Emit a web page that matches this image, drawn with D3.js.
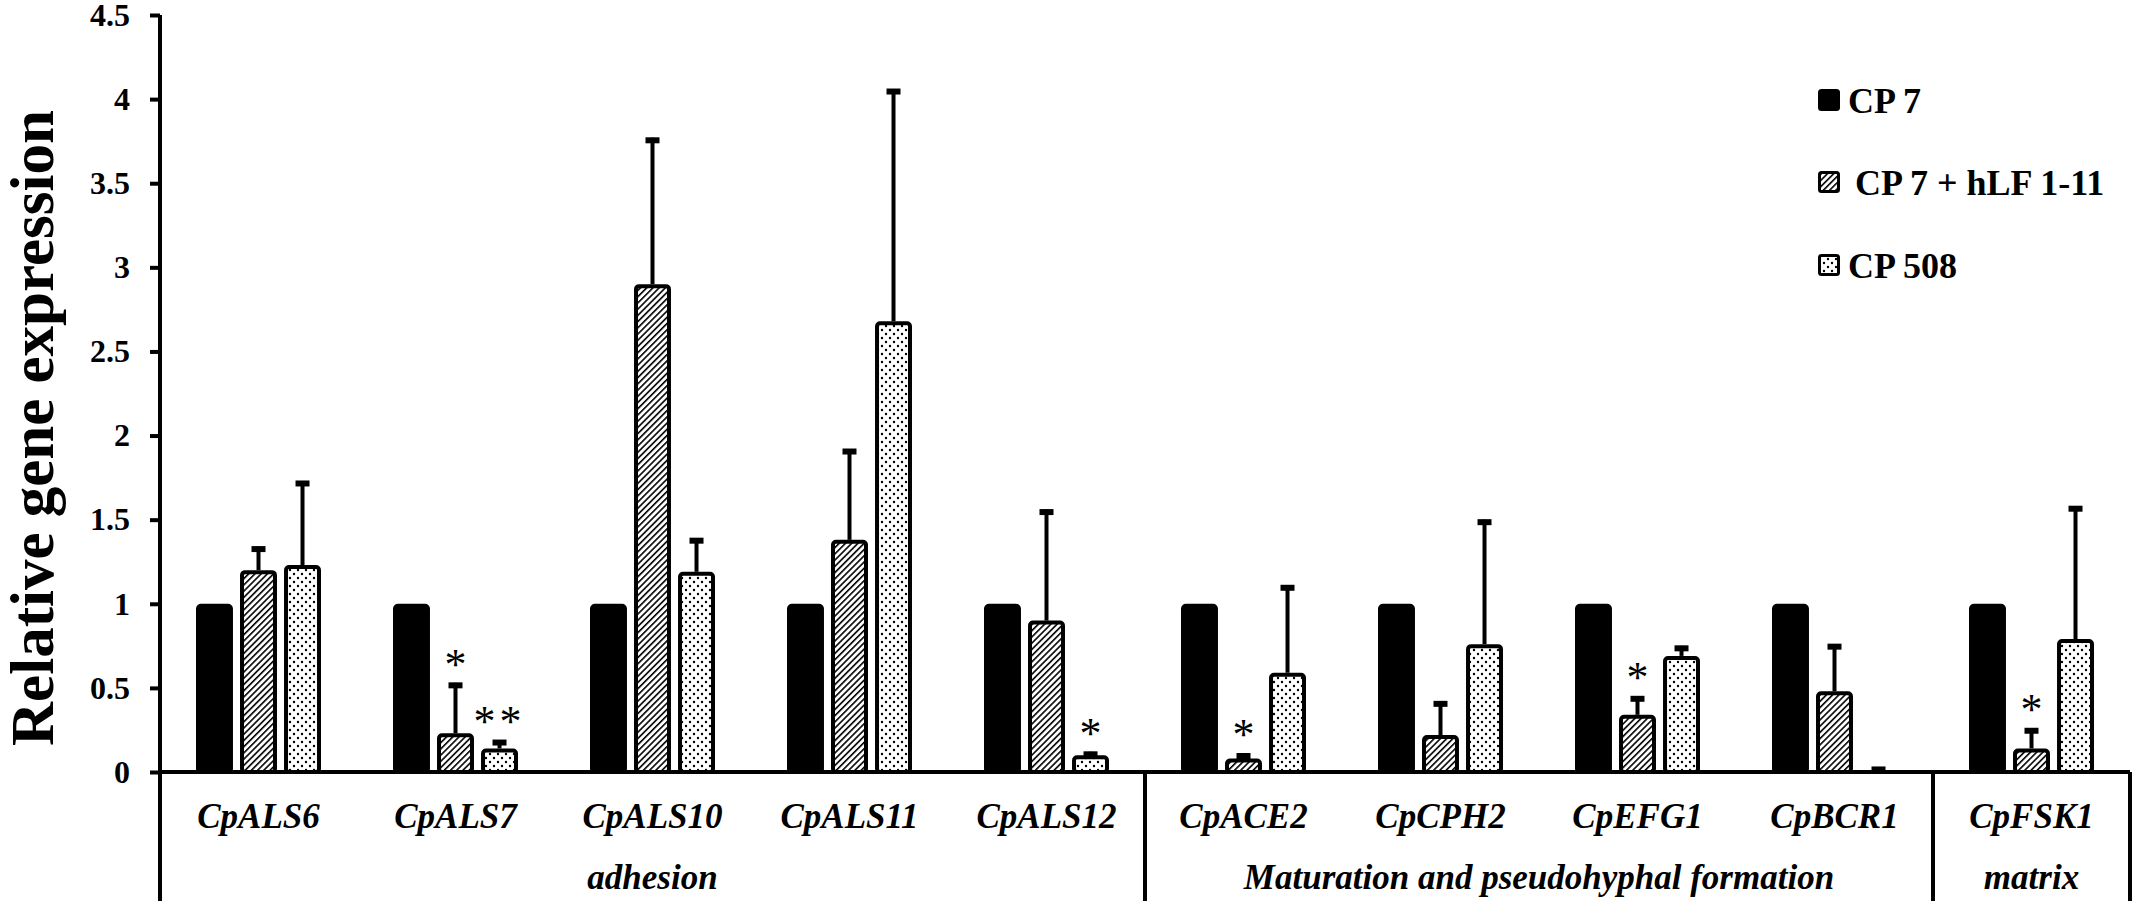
<!DOCTYPE html>
<html>
<head>
<meta charset="utf-8">
<script src="https://cdn.jsdelivr.net/npm/d3@7"></script>
<style>
  body { margin: 0; background: #fff; }
  text { font-family: "Liberation Serif", "Times New Roman", serif; fill: #000; }
</style>
</head>
<body>
<script>
// values
var categories = ["CpALS6", "CpALS7", "CpALS10", "CpALS11", "CpALS12",
                  "CpACE2", "CpCPH2", "CpEFG1", "CpBCR1", "CpFSK1"];
var seriesNames = ["CP 7", "CP 7 + hLF 1-11", "CP 508"];
var cp7 = [1, 1, 1, 1, 1, 1, 1, 1, 1, 1];
var hlf = [1.20, 0.23, 2.90, 1.38, 0.90, 0.08, 0.22, 0.34, 0.48, 0.14];
var hlfSd = [0.14, 0.30, 0.87, 0.54, 0.66, 0.03, 0.20, 0.11, 0.28, 0.12];
var cp508 = [1.23, 0.14, 1.19, 2.68, 0.10, 0.59, 0.76, 0.69, 0.01, 0.79];
var cp508Sd = [0.50, 0.05, 0.20, 1.38, 0.02, 0.52, 0.74, 0.06, 0.02, 0.79];
var yTicks = [0, 0.5, 1, 1.5, 2, 2.5, 3, 3.5, 4, 4.5];
var groups = [
  { name: "adhesion", from: "CpALS6", to: "CpALS12" },
  { name: "Maturation and pseudohyphal formation", from: "CpACE2", to: "CpBCR1" },
  { name: "matrix", from: "CpFSK1", to: "CpFSK1" }
];
var stars = [
  { cat: "CpALS7", s: 1, text: "*" },
  { cat: "CpALS7", s: 2, text: "**" },
  { cat: "CpALS12", s: 2, text: "*" },
  { cat: "CpACE2", s: 1, text: "*" },
  { cat: "CpEFG1", s: 1, text: "*" },
  { cat: "CpFSK1", s: 1, text: "*" }
];

var width = 2133, height = 901;
var plotLeft = 160, plotRight = 2130, plotTop = 15, base = 772;

var svg = d3.select("body").append("svg")
    .attr("width", width)
    .attr("height", height);

// fill patterns
var defs = svg.append("defs");
var hatch = defs.append("pattern")
    .attr("id", "hatch")
    .attr("patternUnits", "userSpaceOnUse")
    .attr("width", 4.4).attr("height", 4.4)
    .attr("patternTransform", "rotate(45)");
hatch.append("rect").attr("width", 4.4).attr("height", 4.4).attr("fill", "#fff");
hatch.append("line")
    .attr("x1", 0).attr("y1", 0).attr("x2", 0).attr("y2", 4.4)
    .attr("stroke", "#000").attr("stroke-width", 3.2);

var dots = defs.append("pattern")
    .attr("id", "dots")
    .attr("patternUnits", "userSpaceOnUse")
    .attr("width", 8).attr("height", 8);
dots.append("rect").attr("width", 8).attr("height", 8).attr("fill", "#fff");
dots.append("circle").attr("cx", 2).attr("cy", 2).attr("r", 1.2).attr("fill", "#000");
dots.append("circle").attr("cx", 6).attr("cy", 6).attr("r", 1.2).attr("fill", "#000");

var fills = ["#000", "url(#hatch)", "url(#dots)"];

var x0 = d3.scaleBand().domain(categories).range([plotLeft, plotRight]).padding(0);
var x1 = d3.scaleBand().domain([0, 1, 2]).range([-62.5, 62.5]).paddingInner(0.16);
var y = d3.scaleLinear().domain([0, 4.5]).range([base, plotTop]);

function barX(cat, s) {
  return x0(cat) + x0.bandwidth() / 2 + x1(s);
}

var rows = [];
categories.forEach(function (c, i) {
  rows.push({ cat: c, s: 0, v: cp7[i], sd: null });
  rows.push({ cat: c, s: 1, v: hlf[i], sd: hlfSd[i] });
  rows.push({ cat: c, s: 2, v: cp508[i], sd: cp508Sd[i] });
});

// error bars (drawn first, bars cover the lower end)
var eb = svg.append("g").selectAll("g")
    .data(rows.filter(function (d) { return d.sd !== null; }))
    .enter().append("g");
eb.append("line")
    .attr("x1", function (d) { return barX(d.cat, d.s) + x1.bandwidth() / 2; })
    .attr("x2", function (d) { return barX(d.cat, d.s) + x1.bandwidth() / 2; })
    .attr("y1", function (d) { return y(d.v); })
    .attr("y2", function (d) { return y(d.v + d.sd); })
    .attr("stroke", "#000").attr("stroke-width", 4);
eb.append("line")
    .attr("x1", function (d) { return barX(d.cat, d.s) + x1.bandwidth() / 2 - 7; })
    .attr("x2", function (d) { return barX(d.cat, d.s) + x1.bandwidth() / 2 + 7; })
    .attr("y1", function (d) { return y(d.v + d.sd) + 2.5; })
    .attr("y2", function (d) { return y(d.v + d.sd) + 2.5; })
    .attr("stroke", "#000").attr("stroke-width", 6);

// bars
svg.append("g").selectAll("rect")
    .data(rows)
    .enter().append("rect")
    .attr("x", function (d) { return barX(d.cat, d.s) + 2; })
    .attr("width", x1.bandwidth() - 4)
    .attr("y", function (d) { return y(d.v) + 2; })
    .attr("height", function (d) { return Math.max(0, base - y(d.v) - 2); })
    .attr("rx", 3)
    .attr("fill", function (d) { return fills[d.s]; })
    .attr("stroke", "#000")
    .attr("stroke-width", 4);

// significance marks
var capOf = function (cat, s) {
  var i = categories.indexOf(cat);
  return s === 1 ? hlf[i] + hlfSd[i] : cp508[i] + cp508Sd[i];
};
svg.append("g").selectAll("text")
    .data(stars)
    .enter().append("text")
    .attr("x", function (d) { return barX(d.cat, d.s) + x1.bandwidth() / 2; })
    .attr("y", function (d) { return y(capOf(d.cat, d.s)) - 4; })
    .attr("text-anchor", "middle")
    .style("font-size", "44px")
    .style("letter-spacing", function (d) { return d.text.length > 1 ? "4px" : "0px"; })
    .text(function (d) { return d.text; });

// y axis
var yAxis = d3.axisLeft(y)
    .tickValues(yTicks)
    .tickSize(10)
    .tickSizeOuter(0)
    .tickPadding(20)
    .tickFormat(function (d) { return String(d); });
var ga = svg.append("g")
    .attr("transform", "translate(" + plotLeft + ",0)")
    .call(yAxis);
ga.select(".domain").remove();
ga.selectAll(".tick line").attr("stroke", "#000").attr("stroke-width", 4);
ga.selectAll(".tick text")
    .style("font-family", "'Liberation Serif', 'Times New Roman', serif")
    .style("font-size", "32px")
    .style("font-weight", "bold")
    .attr("fill", "#000");

// frame lines: axis, baseline, group separators
svg.append("line")
    .attr("x1", plotLeft).attr("x2", plotLeft).attr("y1", plotTop).attr("y2", height)
    .attr("stroke", "#000").attr("stroke-width", 4);
svg.append("line")
    .attr("x1", plotLeft).attr("x2", plotRight).attr("y1", base).attr("y2", base)
    .attr("stroke", "#000").attr("stroke-width", 4);
groups.forEach(function (g) {
  var xr = x0(g.to) + x0.bandwidth();
  svg.append("line")
      .attr("x1", xr).attr("x2", xr).attr("y1", base).attr("y2", height)
      .attr("stroke", "#000").attr("stroke-width", 4);
});

// category labels
svg.append("g").selectAll("text")
    .data(categories)
    .enter().append("text")
    .attr("x", function (d) { return x0(d) + x0.bandwidth() / 2; })
    .attr("y", 828)
    .attr("text-anchor", "middle")
    .style("font-size", "35px")
    .style("font-weight", "bold")
    .style("font-style", "italic")
    .text(function (d) { return d; });

svg.append("g").selectAll("text")
    .data(groups)
    .enter().append("text")
    .attr("x", function (d) { return (x0(d.from) + x0(d.to) + x0.bandwidth()) / 2; })
    .attr("y", 889)
    .attr("text-anchor", "middle")
    .style("font-size", "35px")
    .style("font-weight", "bold")
    .style("font-style", "italic")
    .text(function (d) { return d.name; });

// y title
svg.append("text")
    .attr("transform", "translate(32,428) rotate(-90)")
    .attr("text-anchor", "middle")
    .attr("dy", "0.35em")
    .style("font-size", "61px")
    .style("font-weight", "bold")
    .text("Relative gene expression");

// legend
var lg = svg.append("g").selectAll("g")
    .data(seriesNames)
    .enter().append("g")
    .attr("transform", function (d, i) { return "translate(1818," + [100, 182, 265][i] + ")"; });
lg.append("rect")
    .attr("x", 1.5).attr("y", -9.5).attr("width", 19).attr("height", 19)
    .attr("rx", 2)
    .attr("fill", function (d, i) { return fills[i]; })
    .attr("stroke", "#000").attr("stroke-width", 3);
lg.append("text")
    .attr("x", function (d, i) { return i === 1 ? 37 : 30; })
    .attr("dy", "0.35em")
    .style("font-size", "36px")
    .style("font-weight", "bold")
    .text(function (d) { return d; });
</script>
</body>
</html>
